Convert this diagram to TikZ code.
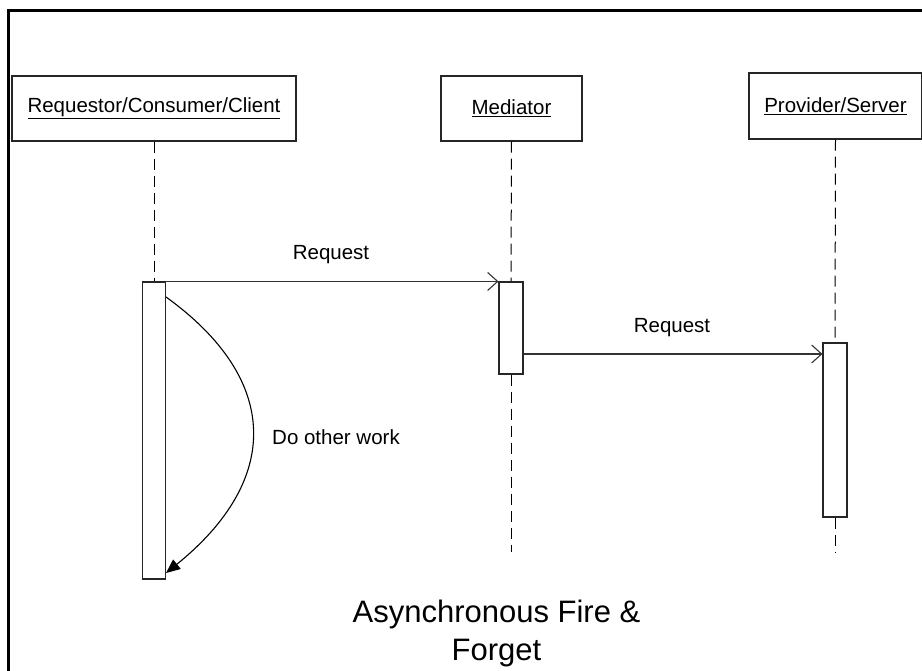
\documentclass[tikz,border=0pt]{standalone}
\usepackage{fontspec}
\setmainfont{Liberation Sans}
\usetikzlibrary{arrows.meta}
\begin{document}
\begin{tikzpicture}[x=1pt,y=-1pt,
  lifebox/.style={draw=black!85, line width=1.1pt, fill=white, inner sep=0pt,
    font=\fontsize{20.5}{24}\selectfont},
  actbox/.style={draw=black!85, line width=1.1pt, fill=white, inner sep=0pt},
  lifeline/.style={draw=black, line width=1pt, dash pattern=on 11pt off 6pt},
  msg/.style={draw=black!80, line width=1.1pt,
    -{Straight Barb[length=10pt,width=18pt,line width=1.1pt]}},
  lbl/.style={font=\fontsize{20.5}{24}\selectfont, inner sep=0pt},
]
\useasboundingbox (0,0) rectangle (922,671);
% frame
\draw[line width=3pt] (8,671) -- (8,11) -- (922,11);

% participants
\node[lifebox, minimum width=284pt, minimum height=65pt] (b1) at (154,108.5)
  {\underline{Requestor/Consumer/Client}};
\node[lifebox, minimum width=141pt, minimum height=65pt] (b2) at (511.5,108.5)
  {\underline{Mediator}};
\node[lifebox, minimum width=173pt, minimum height=66pt] (b3) at (835.5,106)
  {\underline{Provider/Server}};

% activation bars
\node[actbox, minimum width=23pt, minimum height=297pt] (a1) at (154,430.5) {};
\node[actbox, minimum width=24pt, minimum height=92pt] (a2) at (511,328) {};
\node[actbox, minimum width=24pt, minimum height=174pt] (a3) at (835,430) {};

% lifeline ends and message heights
\coordinate (e2) at (511,552);
\coordinate (e3) at (835,552);
\coordinate (m2) at (0,354);
\coordinate (c1) at (0,297);
\coordinate (c2) at (0,573);

% lifelines
\draw[lifeline] (b1.south) -- (a1.north);
\draw[lifeline] (b2.south) -- (a2.north);
\draw[lifeline] (a2.south) -- (e2);
\draw[lifeline] (b3.south) -- (a3.north);
\draw[lifeline] (a3.south) -- (e3);

% messages
\draw[msg] (a1.north east) -- (a2.north west);
\node[lbl] (r1) at (331,255) {Request};
\draw[msg] (a2.east |- m2) -- (a3.west |- m2);
\node[lbl] (r2) at (672,328) {Request};

% self work
\draw[line width=1.1pt, -{Triangle[length=14pt,width=12pt]}]
  (a1.east |- c1) .. controls (281,380) and (281,480) .. (a1.east |- c2);
\node[lbl] (w) at (336,437) {Do other work};

% caption
\node[anchor=base, align=center, inner sep=0pt,
  font=\fontsize{31}{38}\selectfont] (t) at (496.5,660)
  {Asynchronous Fire \&\\Forget};
\end{tikzpicture}
\end{document}
